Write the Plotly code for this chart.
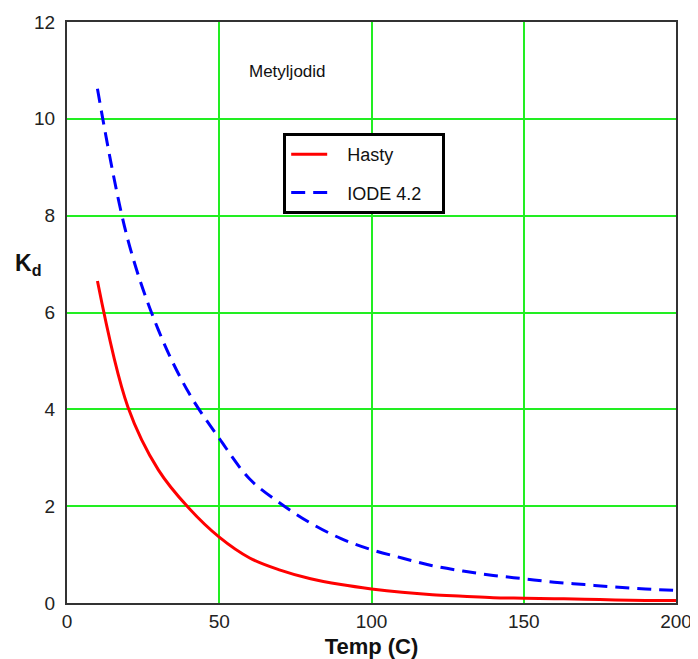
import plotly.graph_objects as go

temp = [10, 20, 30, 40, 50, 60, 70, 80, 90, 100, 110, 120, 130, 140, 150, 160, 170, 180, 190, 200]
hasty = [6.65, 4.05, 2.75, 1.96, 1.36, 0.93, 0.68, 0.50, 0.38, 0.29, 0.22, 0.17, 0.14, 0.11, 0.10, 0.09, 0.08, 0.06, 0.05, 0.05]
iode = [10.62, 7.5, 5.64, 4.34, 3.40, 2.56, 2.06, 1.65, 1.33, 1.10, 0.93, 0.77, 0.66, 0.57, 0.50, 0.43, 0.38, 0.33, 0.29, 0.26]

x_ticks = [0, 50, 100, 150, 200]
y_ticks = [0, 2, 4, 6, 8, 10, 12]

FONT = "Liberation Sans, Arial, sans-serif"
PAD = "\u00a0\u00a0\u00a0"

fig = go.Figure()
fig.add_trace(go.Scatter(x=temp, y=hasty, mode="lines", name=PAD + "Hasty" + PAD,
                         legendgroup="a",
                         line=dict(color="#ff0000", width=3, shape="spline")))
fig.add_trace(go.Scatter(x=temp, y=iode, mode="lines", name=PAD + "IODE 4.2" + PAD,
                         legendgroup="b",
                         line=dict(color="#0000ff", width=3, dash="14px,8px", shape="spline")))

axis_common = dict(showline=True, linecolor="#333333", linewidth=2, mirror=True,
                   showgrid=True, gridcolor="#22ee22", gridwidth=1.5, zeroline=False,
                   ticks="",
                   tickfont=dict(family=FONT, size=19, color="#222222"))

fig.update_layout(
    width=690, height=651,
    paper_bgcolor="white", plot_bgcolor="white",
    margin=dict(l=59, r=22, t=14, b=56, autoexpand=False),
    xaxis=dict(range=[0, 200], tickvals=x_ticks, ticktext=[str(v) for v in x_ticks],
               ticklabelstandoff=0,
               title=dict(text="<b>Temp (C)</b>", font=dict(family=FONT, size=22, color="#111111"), standoff=12),
               **axis_common),
    yaxis=dict(range=[0, 12], tickvals=y_ticks, ticktext=[str(v) for v in y_ticks],
               ticklabelstandoff=6, **axis_common),
    legend=dict(x=0.355, y=0.809, xanchor="left", yanchor="top",
                bordercolor="black", borderwidth=3, bgcolor="white",
                font=dict(family=FONT, size=18, color="#111111"),
                itemwidth=36, tracegroupgap=12, traceorder="grouped"),
    showlegend=True,
    annotations=[
        dict(text="Metyljodid", x=0.2956, y=0.914, xref="paper", yref="paper", showarrow=False,
             xanchor="left", yanchor="middle",
             font=dict(family=FONT, size=17, color="#111111")),
        dict(text="<b>K<sub>d</sub></b>", x=-0.064, y=0.582, xref="paper", yref="paper", showarrow=False,
             xanchor="center", yanchor="middle",
             font=dict(family=FONT, size=23, color="#111111")),
    ],
)

fig.write_html("out.html")
